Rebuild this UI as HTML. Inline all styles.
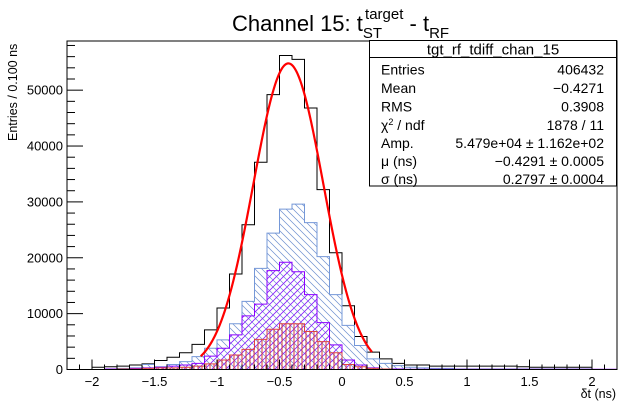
<!DOCTYPE html>
<html><head><meta charset="utf-8"><style>
body{margin:0;background:#fff;}
svg text{font-family:"Liberation Sans",sans-serif;}
</style></head><body>
<svg id="c" width="625" height="404" viewBox="0 0 625 404" xmlns="http://www.w3.org/2000/svg">
<defs>
<pattern id="hb" patternUnits="userSpaceOnUse" width="7" height="7"><path d="M-1,-1 L8,8 M-1,6 L1,8 M6,-1 L8,1" stroke="#6d8fcf" stroke-width="0.7"/></pattern>
<pattern id="hp" patternUnits="userSpaceOnUse" width="7" height="7"><path d="M-1,8 L8,-1 M-1,1 L1,-1 M6,8 L8,6" stroke="#8a1bff" stroke-width="0.8"/></pattern>
<pattern id="hr" patternUnits="userSpaceOnUse" width="4" height="4"><path d="M2,0 L2,4" stroke="#d03a3a" stroke-width="1"/></pattern>
</defs>
<rect x="0" y="0" width="625" height="404" fill="#fff"/>
<text x="232" y="31" font-size="22">Channel 15: t<tspan font-size="15" dy="7">ST</tspan><tspan font-size="15" dx="-17" dy="-19">target</tspan><tspan dy="12"> - t</tspan><tspan font-size="15" dy="7">RF</tspan></text>
<text transform="translate(17,141) rotate(-90)" font-size="12.5">Entries / 0.100 ns</text>
<text x="616" y="398" font-size="12.5" text-anchor="end">δt (ns)</text>
<g id="plot"></g>
<rect x="67" y="41" width="550" height="328.5" fill="none" stroke="#000" stroke-width="1"/>
<g font-size="14">
<rect x="369.5" y="40.5" width="247" height="145.5" fill="#fff" stroke="#000"/>
<line x1="369.5" y1="57.5" x2="616.5" y2="57.5" stroke="#000"/>
<text x="493" y="54.5" text-anchor="middle" font-size="15">tgt_rf_tdiff_chan_15</text>
<text x="381" y="74.5">Entries</text><text x="604" y="74.5" text-anchor="end">406432</text>
<text x="381" y="93">Mean</text><text x="604" y="93" text-anchor="end">−0.4271</text>
<text x="381" y="111.5">RMS</text><text x="604" y="111.5" text-anchor="end">0.3908</text>
<text x="381" y="130">χ<tspan font-size="9" dy="-5">2</tspan><tspan dy="5"> / ndf</tspan></text><text x="604" y="130" text-anchor="end">1878 / 11</text>
<text x="381" y="148">Amp.</text><text x="604" y="148" text-anchor="end">5.479e+04 ± 1.162e+02</text>
<text x="381" y="166">μ (ns)</text><text x="604" y="166" text-anchor="end">−0.4291 ± 0.0005</text>
<text x="381" y="184">σ (ns)</text><text x="604" y="184" text-anchor="end">0.2797 ± 0.0004</text>
</g>
</svg>
<script>
// bins: 0.1 ns wide, lower edges from -2.2 to 2.1
const binLow = [-2.2,-2.1,-2.0,-1.9,-1.8,-1.7,-1.6,-1.5,-1.4,-1.3,-1.2,-1.1,-1.0,-0.9,-0.8,-0.7,-0.6,-0.5,-0.4,-0.3,-0.2,-0.1,0.0,0.1,0.2,0.3,0.4,0.5,0.6,0.7,0.8,0.9,1.0,1.1,1.2,1.3,1.4,1.5,1.6,1.7,1.8,1.9,2.0,2.1];
const totalCounts = [0,0,400,500,600,800,1000,1600,2200,3000,4500,7100,11000,17100,25900,37100,49200,56200,55500,46800,32200,20900,11400,5900,3100,1900,1100,800,800,600,600,600,600,600,600,600,500,400,400,400,400,400,0,0];
const blueCounts = [0,0,0,100,200,300,900,500,900,1400,2300,3800,5300,8200,12200,18100,24400,28700,29600,26300,20200,13400,7900,4300,1900,1100,700,400,300,200,200,100,100,100,100,100,100,100,100,100,100,100,0,0];
const purpleCounts = [0,0,0,100,100,200,300,400,600,800,1100,2400,3800,6200,9600,11700,17700,19200,17500,13400,8400,4400,1700,800,300,100,100,50,50,50,50,50,50,50,50,50,50,50,50,50,50,50,50,50];
const redCounts = [0,0,0,0,100,100,200,300,300,400,600,1000,1700,2600,3600,5400,7200,8200,8200,6800,5000,3000,900,500,200,100,0,0,0,0,0,0,0,0,0,0,0,0,0,0,0,0,0,0];
const fitAmp = 54790, fitMu = -0.4291, fitSigma = 0.2797, fitRange = [-1.13, 0.24];
const yTicks = [0,10000,20000,30000,40000,50000];
const xTicks = [-2,-1.5,-1,-0.5,0,0.5,1,1.5,2];
const xLabels = ["−2","−1.5","−1","−0.5","0","0.5","1","1.5","2"];
const yLabels = ["0","10000","20000","30000","40000","50000"];

const NS="http://www.w3.org/2000/svg";
const X0=-2.2,X1=2.2,PX0=67,PX1=617,PY0=369.5,PYT=41,YMAX=58800;
function sx(v){return PX0+(v-X0)/(X1-X0)*(PX1-PX0);}
function sy(v){return PY0-v/YMAX*(PY0-PYT);}
const g=document.getElementById('plot');
function mk(t,a){const e=document.createElementNS(NS,t);for(const k in a)e.setAttribute(k,a[k]);g.appendChild(e);return e;}
function stepPath(vals){let d='M'+sx(binLow[0])+','+sy(0);for(let i=0;i<vals.length;i++){const x0=sx(binLow[i]),x1=sx(binLow[i]+0.1),y=sy(vals[i]);d+=' L'+x0+','+y+' L'+x1+','+y;}d+=' L'+sx(X1)+','+sy(0)+' Z';return d;}
function hist(vals,fill,stroke,name){
 const p=mk('path',{d:stepPath(vals),fill:fill,stroke:stroke,'stroke-width':1});
 
 
}
hist(totalCounts,'none','#000','histogram-total');
hist(blueCounts,'url(#hb)','#7598d8','histogram-blue');
hist(purpleCounts,'url(#hp)','#8a00ff','histogram-purple');
hist(redCounts,'url(#hr)','#dd4444','histogram-red');
// fit
let fd='';
for(let i=0;i<=200;i++){const v=fitRange[0]+(fitRange[1]-fitRange[0])*i/200;const y=fitAmp*Math.exp(-0.5*Math.pow((v-fitMu)/fitSigma,2));fd+=(i?' L':'M')+sx(v).toFixed(2)+','+sy(y).toFixed(2);}
const fit=mk('path',{d:fd,fill:'none',stroke:'#ff0000','stroke-width':2.2});


// axes ticks
for(let v=0;v<=YMAX;v+=2000){const major=v%10000===0;const t=mk('line',{x1:PX0,x2:PX0+(major?16:8),y1:sy(v),y2:sy(v),stroke:'#000','stroke-width':1});

}
yTicks.forEach((v,i)=>{const t=mk('text',{x:63,y:sy(v)+4.5,'font-size':13,'text-anchor':'end'});t.textContent=yLabels[i];

});
for(let k=-22;k<=22;k++){const v=k/10;const major=k%5===0;const t=mk('line',{x1:sx(v),x2:sx(v),y1:PY0,y2:PY0-(major?10:5),stroke:'#000','stroke-width':1});

}
xTicks.forEach((v,i)=>{const t=mk('text',{x:sx(v),y:386,'font-size':13,'text-anchor':'middle'});t.textContent=xLabels[i];

});
</script>
</body></html>
